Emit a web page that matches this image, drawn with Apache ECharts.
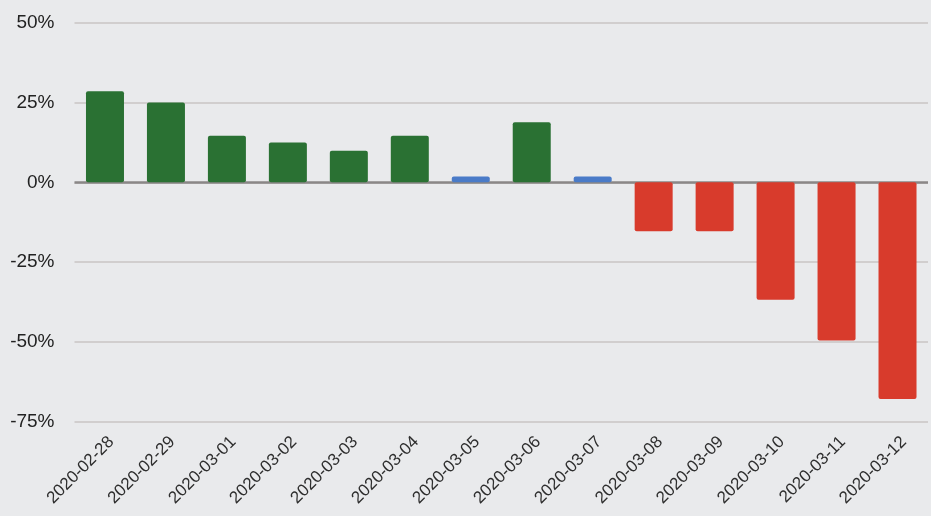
<!DOCTYPE html>
<html>
<head>
<meta charset="utf-8">
<script src="https://cdn.jsdelivr.net/npm/echarts@6/dist/echarts.min.js"></script>
<style>
html,body{margin:0;padding:0;background:#e9eaec;}
#c{width:931px;height:516px;}
</style>
</head>
<body>
<div id="c"></div>
<script>
const categories = ['2020-02-28','2020-02-29','2020-03-01','2020-03-02','2020-03-03','2020-03-04','2020-03-05','2020-03-06','2020-03-07','2020-03-08','2020-03-09','2020-03-10','2020-03-11','2020-03-12'];
const values = [28.5, 25, 14.6, 12.5, 9.9, 14.6, 1.8, 18.8, 1.8, -15.3, -15.3, -36.8, -49.6, -67.9];
const yTicks = [-75, -50, -25, 0, 25, 50];

const chart = echarts.init(document.getElementById('c'));
chart.setOption({
  backgroundColor: '#e9eaec',
  animation: false,
  grid: { left: 74.5, right: 3, top: 22.7, bottom: 94.3 },
  xAxis: {
    type: 'category',
    data: categories,
    axisLine: { show: false, onZero: false },
    axisTick: { show: false },
    axisLabel: { rotate: 45, fontSize: 17, color: '#2e2e2e', margin: 24, padding: [0, -9, 0, 0], fontFamily: 'Liberation Sans, Arial, sans-serif' }
  },
  yAxis: {
    type: 'value',
    min: yTicks[0],
    max: yTicks[yTicks.length - 1],
    interval: 25,
    axisLine: { show: false },
    axisTick: { show: false },
    axisLabel: { formatter: '{value}%', fontSize: 19, color: '#222222', margin: 20, fontFamily: 'Liberation Sans, Arial, sans-serif' },
    splitLine: { lineStyle: { color: '#c9c5c5', width: 1.5 } }
  },
  series: [{
    type: 'bar',
    data: values,
    barWidth: 38,
    itemStyle: {
      borderRadius: 2,
      color: function (p) {
        if (p.value < 0) return '#d83b2c';
        if (p.value < 5) return '#4a7bc8';
        return '#2a7133';
      }
    },
    markLine: {
      silent: true,
      symbol: 'none',
      label: { show: false },
      lineStyle: { color: '#8a8787', width: 2.5, type: 'solid' },
      data: [{ yAxis: 0 }],
      z: 1
    }
  }]
});
</script>
</body>
</html>
